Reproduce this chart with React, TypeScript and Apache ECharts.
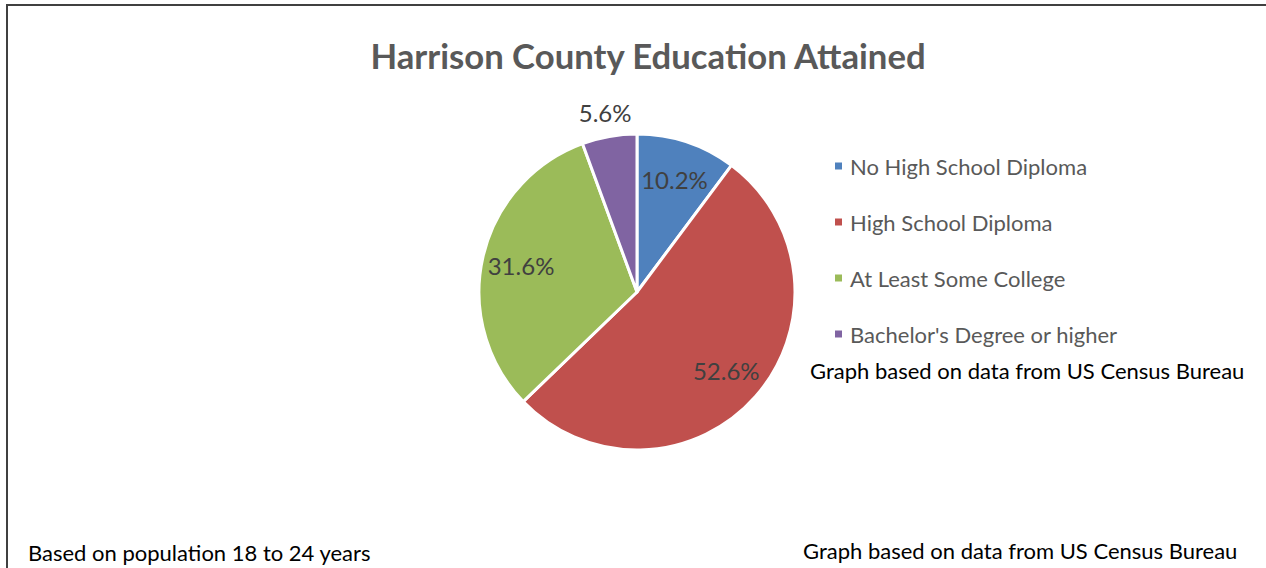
import React, { useEffect, useRef } from "react";
import * as echarts from "echarts";

const categories = [
  "No High School Diploma",
  "High School Diploma",
  "At Least Some College",
  "Bachelor's Degree or higher",
];
const values = [10.2, 52.6, 31.6, 5.6];
const colors = ["#4F81BD", "#C0504D", "#9BBB59", "#8064A2"];
const titleText = "Harrison County Education Attained";
const sourceNote = "Graph based on data from US Census Bureau";
const populationNote = "Based on population 18 to 24 years";

const FONT = "Lato, 'Open Sans', sans-serif";

export default function App() {
  const ref = useRef<HTMLDivElement>(null);
  useEffect(() => {
    if (!ref.current) return;
    const chart = echarts.init(ref.current, undefined, { renderer: "svg" });
    const fmt = (p: any) => p.value.toFixed(1) + "%";
    const labelStyle = {
      show: true,
      position: "inside",
      formatter: fmt,
      fontFamily: FONT,
      fontSize: 24,
      color: "#404040",
    };
    const labelPie = (radius: number, show: (i: number) => boolean) => ({
      type: "pie",
      silent: true,
      center: [637, 292],
      radius: [0, radius],
      startAngle: 90,
      clockwise: true,
      itemStyle: { color: "rgba(0,0,0,0)", borderWidth: 0 },
      labelLine: { show: false },
      data: categories.map((name, i) => ({
        name,
        value: values[i],
        label: show(i) ? labelStyle : { show: false },
      })),
    });
    chart.setOption({
      animation: false,
      backgroundColor: "#ffffff",
      title: {
        text: titleText,
        left: 643,
        top: 33,
        textAlign: "center",
        textStyle: {
          fontFamily: FONT,
          fontSize: 34.7,
          fontWeight: "bold",
          color: "#595959",
        },
      },
      legend: {
        orient: "vertical",
        left: 833,
        top: 155,
        padding: 0,
        icon: "rect",
        itemWidth: 9,
        itemHeight: 9,
        itemGap: 34,
        data: categories,
        textStyle: {
          fontFamily: FONT,
          fontSize: 22,
          color: "#595959",
          lineHeight: 22,
          padding: [0, 0, 0, 2],
        },
      },
      series: [
        {
          type: "pie",
          center: [637, 292],
          radius: [0, 158],
          startAngle: 90,
          clockwise: true,
          itemStyle: { borderColor: "#ffffff", borderWidth: 3 },
          label: { show: false },
          labelLine: { show: false },
          data: categories.map((name, i) => ({
            name,
            value: values[i],
            itemStyle: { color: colors[i] },
          })),
        },
        labelPie(232, (i) => i !== 3),
        labelPie(358, (i) => i === 3),
      ],
      graphic: [
        {
          type: "rect",
          shape: { x: 7, y: 5, width: 1300, height: 600 },
          style: { fill: "none", stroke: "#404040", lineWidth: 2 },
          silent: true,
        },
        {
          type: "text",
          left: 810,
          top: 359,
          style: {
            text: sourceNote,
            fontFamily: FONT,
            fontSize: 22,
            fill: "#000000",
          },
        },
        {
          type: "text",
          left: 28,
          top: 541,
          style: {
            text: populationNote,
            fontFamily: FONT,
            fontSize: 22,
            fill: "#000000",
          },
        },
        {
          type: "text",
          left: 803,
          top: 539,
          style: {
            text: sourceNote,
            fontFamily: FONT,
            fontSize: 22,
            fill: "#000000",
          },
        },
      ],
    });
    return () => chart.dispose();
  }, []);
  return (
    <div
      ref={ref}
      style={{ position: "fixed", left: 0, top: 0, width: 1266, height: 568 }}
    />
  );
}
